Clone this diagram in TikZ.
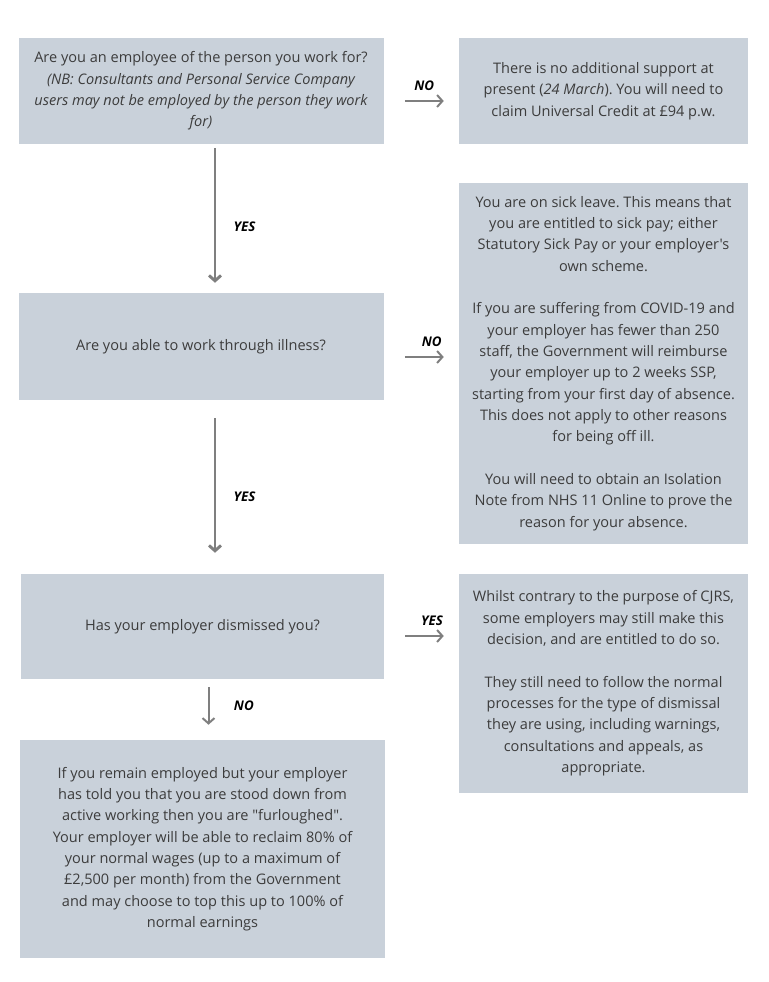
\documentclass[tikz,border=0pt]{standalone}
\usepackage{fontspec}
\setmainfont{Open Sans}[Ligatures=TeXOff]
\usetikzlibrary{calc,arrows.meta}

\definecolor{boxgrey}{HTML}{C9D1DA}
\definecolor{arrowgrey}{HTML}{7F7F7F}
\definecolor{textgrey}{HTML}{3C3C3C}

\tikzset{
	qbox/.style={fill=boxgrey, text=textgrey, align=center, inner sep=0pt,
		font=\fontsize{10.9}{16}\selectfont},
	flow/.style={draw=arrowgrey, line width=1.5pt, -{Straight Barb[length=4pt, width=9pt]}},
	flowdown/.style={flow, line width=2.2pt},
	ans/.style={font=\fontsize{10}{12}\selectfont\bfseries\itshape, text=black},
}
\frenchspacing

\begin{document}
\begin{tikzpicture}[x=0.75pt, y=-0.75pt]
	\useasboundingbox (0,0) rectangle (768,982);
	
	% ================= 左列：问题 =================
	\node[qbox, minimum width=273.75pt, minimum height=79.5pt] (q1) at (201,91)
		{Are you an employee of the person you work for?\\
		 \itshape(NB: Consultants and Personal Service Company\\
		 \itshape users may not be employed by the person they work\\
		 \itshape for)};
	\node[qbox, minimum width=273.75pt, minimum height=80.25pt] (q2) at (201,346.5)
		{Are you able to work through illness?};
	\node[qbox, minimum width=272.25pt, minimum height=78.75pt] (q3) at (202.5,626.5)
		{Has your employer dismissed you?};
	\node[qbox, minimum width=273.75pt, minimum height=163.5pt] (r4) at (202.5,849)
		{If you remain employed but your employer\\
		 has told you that you are stood down from\\
		 active working then you are "furloughed".\\
		 Your employer will be able to reclaim 80\% of\\
		 your normal wages (up to a maximum of\\
		 £2,500 per month) from the Government\\
		 and may choose to top this up to 100\% of\\
		 normal earnings};
	
	% ================= 右列：结果 =================
	\node[qbox, minimum width=216.75pt, minimum height=79.5pt] (r1) at (603.5,91)
		{There is no additional support at\\
		 present ({\itshape 24 March}). You will need to\\
		 claim Universal Credit at £94 p.w.};
	\node[qbox, minimum width=216.75pt, minimum height=270.75pt] (r2) at (603.5,363.5)
		{You are on sick leave. This means that\\
		 you are entitled to sick pay; either\\
		 Statutory Sick Pay or your employer's\\
		 own scheme.\\[16pt]
		 If you are suffering from COVID-19 and\\
		 your employer has fewer than 250\\
		 staff, the Government will reimburse\\
		 your employer up to 2 weeks SSP,\\
		 starting from your first day of absence.\\
		 This does not apply to other reasons\\
		 for being off ill.\\[16pt]
		 You will need to obtain an Isolation\\
		 Note from NHS 11 Online to prove the\\
		 reason for your absence.};
	\node[qbox, minimum width=216.75pt, minimum height=164.25pt] (r3) at (603.5,683.5)
		{Whilst contrary to the purpose of CJRS,\\
		 some employers may still make this\\
		 decision, and are entitled to do so.\\[16pt]
		 They still need to follow the normal\\
		 processes for the type of dismissal\\
		 they are using, including warnings,\\
		 consultations and appeals, as\\
		 appropriate.};
	
	% ================= 箭头 =================
	\draw[flow] ($(q1.east)+(21,10)$) -- ($(r1.west)+(-15,10)$)
		node[ans, midway, above=4pt] {NO};
	\coordinate (n2) at ($(q2.east)+(21,10.5)$);
	\draw[flow, shorten >=11.25pt] (n2) -- (n2 -| r2.west)
		node[ans, midway, above=4pt] {NO};
	\coordinate (y3) at ($(q3.east)+(21,9.5)$);
	\draw[flow, shorten >=11.25pt] (y3) -- (y3 -| r3.west)
		node[ans, midway, above=4pt] {YES};
	
	\draw[flowdown] ($(q1.south)+(14,4)$) -- ($(q2.north)+(14,-10)$)
		node[ans, pos=0.58, right=9.5pt] {YES};
	\draw[flowdown] ($(q2.south)+(14,18)$) -- ($(q3.north)+(12.5,-21)$)
		node[ans, pos=0.58, right=9.5pt] {YES};
	\draw[flow] ($(q3.south)+(6,8)$) -- ($(r4.north)+(6,-15)$)
		node[ans, midway, right=15pt] {NO};
	
\end{tikzpicture}
\end{document}
